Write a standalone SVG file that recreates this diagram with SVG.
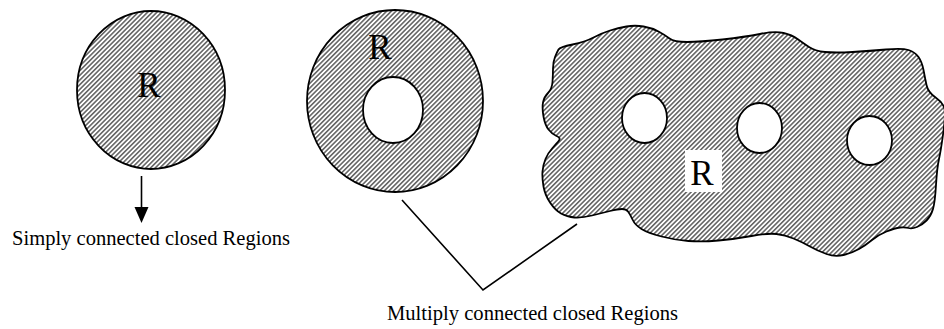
<svg xmlns="http://www.w3.org/2000/svg" width="944" height="329" viewBox="0 0 944 329">
<style>
.shape{fill:url(#hatch);stroke:#000;stroke-width:1.8}
.hole{fill:#fff;stroke:#000;stroke-width:1.8}
.lbl{font-family:"Liberation Serif","Times New Roman",serif;fill:#000}
.big{font-size:35px;text-anchor:middle}
.cap{font-size:21px}
.conn{fill:none;stroke:#000;stroke-width:1.6}
</style>
<defs>
<pattern id="hatch" patternUnits="userSpaceOnUse" width="3.3" height="3.3" patternTransform="rotate(45)">
<rect width="3.3" height="3.3" fill="#fff"/>
<line x1="0.8" y1="0" x2="0.8" y2="3.3" stroke="#333" stroke-width="1.2"/>
</pattern>
</defs>
<rect width="944" height="329" fill="#fff"/>
<g id="simple-region">
<ellipse class="shape" cx="151" cy="90" rx="74" ry="79"/>
<text class="lbl big" x="149" y="97">R</text>
</g>
<g id="annulus-region">
<ellipse class="shape" cx="395" cy="101" rx="88" ry="91"/>
<ellipse class="hole" cx="393" cy="110" rx="30" ry="33"/>
<text class="lbl big" x="380" y="59">R</text>
</g>
<g id="blob-region">
<path class="shape" d="M558.5,49.5 Q560,47 572.5,44.5 Q585,42 593.5,37.5 Q602,33 610,30.5 Q618,28 626.5,26.5 Q635,25 643.5,26.5 Q652,28 658.5,31.5 Q665,35 669.5,38.5 Q674,42 687,42 Q700,42 722.5,39.5 Q745,37 760,34 Q775,31 783.5,33 Q792,35 797.5,39 Q803,43 809,47 Q815,51 825,52 Q835,53 852.5,52 Q870,51 886,49.5 Q902,48 908.5,50 Q915,52 918.5,57 Q922,62 923.5,70 Q925,78 926.5,85 Q928,92 935,97 Q942,102 944,107 Q946,112 943.5,131 Q941,150 939,159 Q937,168 936,185 Q935,202 933,209 Q931,216 926.5,220.5 Q922,225 917,227 Q912,229 908.5,228 Q905,227 900,227.5 Q895,228 886.5,231.5 Q878,235 872,240 Q866,245 859,249 Q852,253 843.5,255 Q835,257 826.5,254 Q818,251 810,246.5 Q802,242 793.5,238.5 Q785,235 776.5,234 Q768,233 751.5,236 Q735,239 718.5,240.5 Q702,242 688.5,241 Q675,240 661.5,236.5 Q648,233 641.5,229 Q635,225 632.5,219.5 Q630,214 628,211.5 Q626,209 622,209 Q618,209 610,211 Q602,213 592,215.5 Q582,218 574.5,217.5 Q567,217 561,213.5 Q555,210 550,202.5 Q545,195 543.5,186.5 Q542,178 542.5,171.5 Q543,165 545.5,159 Q548,153 552.5,148 Q557,143 559,140.5 Q561,138 556.5,136 Q552,134 548.5,129.5 Q545,125 543.5,116.5 Q542,108 543,102.5 Q544,97 548,93 Q552,89 552.5,82 Q553,75 553,68.5 Q553,62 555,57 Q557,52 558.5,49.5 Z"/>
<ellipse class="hole" cx="644.5" cy="118" rx="22.5" ry="25"/>
<ellipse class="hole" cx="759.5" cy="128" rx="22.5" ry="25"/>
<ellipse class="hole" cx="869.5" cy="140.5" rx="22.5" ry="24.5"/>
<rect x="685" y="150" width="37" height="42" fill="#fff"/>
<text class="lbl big" x="702" y="185">R</text>
</g>
<g id="connectors">
<line class="conn" x1="141.5" y1="176" x2="141.5" y2="209"/>
<polygon points="134.5,207 148.5,207 141.5,223" fill="#000"/>
<polyline class="conn" points="402,200 483,290 577,224"/>
</g>
<g id="captions">
<text class="lbl cap" x="12" y="245" textLength="278" lengthAdjust="spacingAndGlyphs">Simply connected closed Regions</text>
<text class="lbl cap" x="387" y="320" textLength="291" lengthAdjust="spacingAndGlyphs">Multiply connected closed Regions</text>
</g>
</svg>
